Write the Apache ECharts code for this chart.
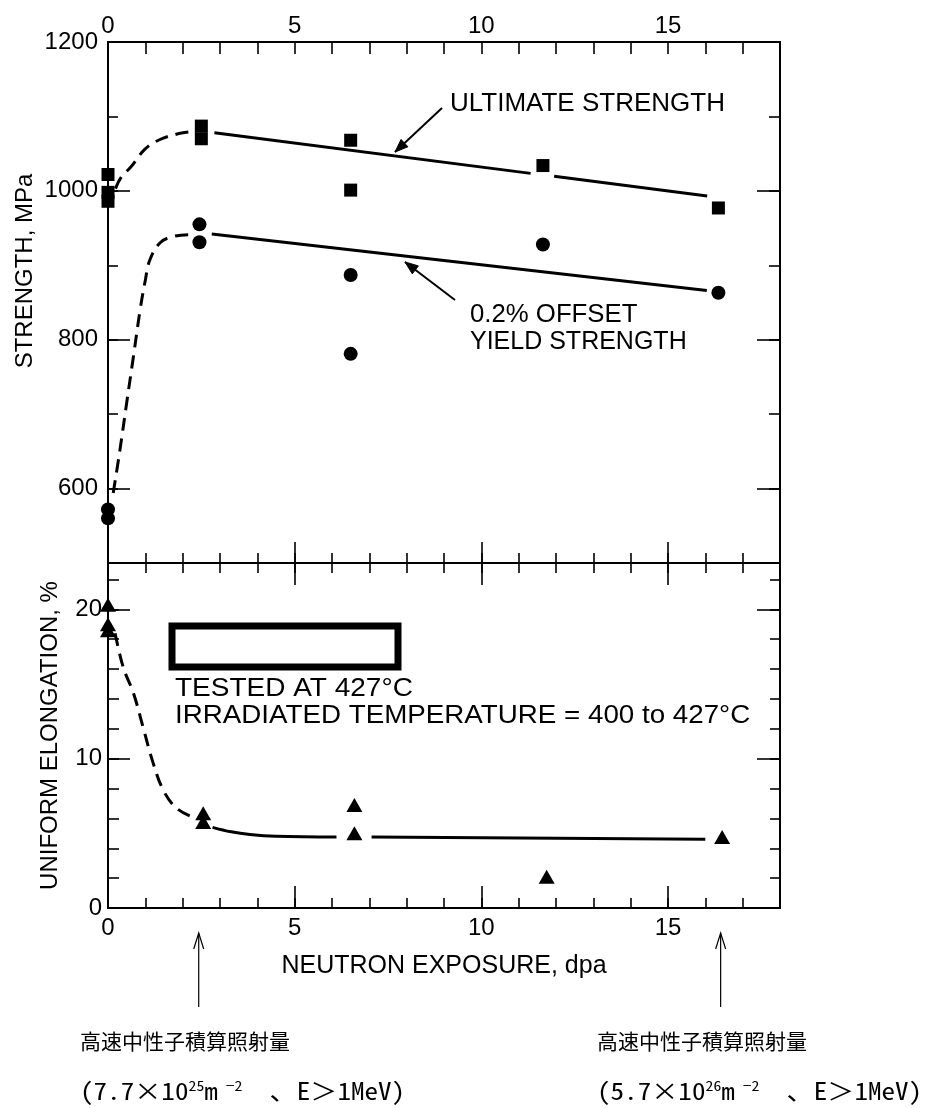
<!DOCTYPE html>
<html><head><meta charset="utf-8">
<script src="https://cdn.jsdelivr.net/npm/echarts@6/dist/echarts.min.js"></script>
<style>html,body{margin:0;padding:0;background:#fff}#c{width:931px;height:1108px}</style>
</head><body><div id="c"></div>
<script>
// ---------------- data ----------------
const xTickLabels = [0, 5, 10, 15];
const strengthTickLabels = [600, 800, 1000, 1200];
const elongTickLabels = [0, 10, 20];

// ultimate strength (squares)
const ultX = [0, 0, 0, 2.5, 2.5, 6.5, 6.5, 11.65, 16.35];
const ultY = [1022, 998, 986, 1087, 1070, 1068, 1001, 1034, 977];
// 0.2% offset yield strength (circles)
const ysX = [0, 0, 2.45, 2.45, 6.5, 6.5, 11.65, 16.35];
const ysY = [572, 560, 955, 931, 887, 781, 928, 863];
// uniform elongation (triangles)
const elX = [0, 0, 0, 2.55, 2.55, 6.6, 6.6, 11.75, 16.45];
const elY = [20.3, 19.0, 18.6, 6.35, 5.75, 6.9, 5.0, 2.1, 4.75];

// hand-drawn trend curves
const ultDashX = [0.2, 0.35, 0.61, 0.99, 1.35, 1.9, 2.3];
const ultDashY = [1003, 1018, 1032, 1056, 1068, 1077, 1080];
const ultFit1X = [2.85, 11.32], ultFit1Y = [1078, 1023.5];
const ultFit2X = [11.95, 16.05], ultFit2Y = [1019.5, 993];

const ysDashX = [0.14, 0.32, 0.5, 0.68, 0.86, 1.0, 1.12, 1.39, 1.74, 2.19];
const ysDashY = [594, 652, 715, 777, 840, 880, 907, 930, 938.6, 941];
const ysFitX = [2.78, 16.04], ysFitY = [942, 866];

const elDashX = [0.19, 0.41, 0.68, 0.94, 1.21, 1.48, 1.83, 2.3];
const elDashY = [18.4, 16.1, 14.4, 12.1, 9.7, 7.9, 6.7, 6.05];
const elFit1X = [2.8, 3.3, 3.8, 4.5, 6.12], elFit1Y = [5.4, 5.1, 4.92, 4.8, 4.75];
const elFit2X = [7.06, 16.0], elFit2Y = [4.75, 4.6];

// fluence markers (dpa)
const fluenceX = [2.43, 16.41];

// ---------------- chart ----------------
const FONT = "'Liberation Sans', Arial, Helvetica, sans-serif";
const BLACK = '#000';
const pts = (xs, ys) => xs.map((x, i) => [x, ys[i]]);

const chart = echarts.init(document.getElementById('c'), null, {renderer: 'canvas', width: 931, height: 1108});

const axLine = {show: true, onZero: false, lineStyle: {color: BLACK, width: 2}};
function tick(len) { return {show: true, inside: true, length: len, lineStyle: {color: BLACK, width: 1.6}}; }
const noLabel = {show: false};

function xAx(grid, pos, interval, len, label) {
  return {
    type: 'value', gridIndex: grid, position: pos, min: 0, max: 18, interval: interval,
    axisLine: axLine, axisTick: tick(len), splitLine: {show: false},
    axisLabel: label || noLabel
  };
}
function yAx(grid, pos, min, max, interval, len, inverse, label) {
  return {
    type: 'value', gridIndex: grid, position: pos, min: min, max: max, interval: interval, inverse: !!inverse,
    axisLine: axLine, axisTick: tick(len), splitLine: {show: false},
    axisLabel: label || noLabel
  };
}

const xLabel = (margin) => ({
  show: true, margin: margin, color: BLACK, fontFamily: FONT, fontSize: 24,
  formatter: v => xTickLabels.includes(v) ? String(v) : ''
});

const xAxes = [
  xAx(0, 'top', 1, 12, xLabel(4)),
  xAx(0, 'bottom', 1, 10),
  xAx(0, 'bottom', 5, 21),
  xAx(1, 'top', 1, 10),
  xAx(1, 'top', 5, 22),
  xAx(1, 'bottom', 1, 10),
  Object.assign(xAx(1, 'bottom', 5, 22, xLabel(8)), {
    name: 'NEUTRON EXPOSURE, dpa', nameLocation: 'middle', nameGap: 46,
    nameTextStyle: {color: BLACK, fontFamily: FONT, fontSize: 25}
  })
];

const yAxes = [
  yAx(0, 'left', 500, 1200, 100, 10),
  yAx(0, 'left', -1200, -500, 200, 22, true, {
    show: true, margin: 10, color: BLACK, fontFamily: FONT, fontSize: 24,
    formatter: v => strengthTickLabels.includes(-v) ? String(-v) : ''
  }),
  yAx(0, 'right', 500, 1200, 100, 11),
  yAx(0, 'right', -1200, -500, 200, 23, true),
  yAx(1, 'left', 0, 23.1, 2, 11),
  Object.assign(yAx(1, 'left', 0, 23.1, 10, 22, false, {
    show: true, margin: 6, color: BLACK, fontFamily: FONT, fontSize: 24,
    formatter: v => elongTickLabels.includes(v) ? String(v) : ''
  }), {
    name: 'UNIFORM ELONGATION, %', nameLocation: 'middle', nameGap: 46, nameRotate: 90,
    nameTextStyle: {color: BLACK, fontFamily: FONT, fontSize: 24}
  }),
  yAx(1, 'right', 0, 23.1, 2, 10),
  yAx(1, 'right', 0, 23.1, 10, 23)
];

function lineSeries(xi, yi, data, dashed, smooth) {
  return {
    type: 'line', xAxisIndex: xi, yAxisIndex: yi, data: data, symbol: 'none', smooth: smooth || false,
    silent: true, z: 2, clip: false,
    lineStyle: {color: BLACK, width: 3, type: dashed ? [13, 8] : 'solid'}
  };
}
function scatterSeries(xi, yi, data, symbol, size) {
  return {
    type: 'scatter', xAxisIndex: xi, yAxisIndex: yi, data: data, symbol: symbol, symbolSize: size,
    itemStyle: {color: BLACK, opacity: 1}, clip: false, z: 5, silent: true
  };
}

const series = [
  lineSeries(0, 0, pts(ultDashX, ultDashY), true, 0.4),
  lineSeries(0, 0, pts(ultFit1X, ultFit1Y), false),
  lineSeries(0, 0, pts(ultFit2X, ultFit2Y), false),
  lineSeries(0, 0, pts(ysDashX, ysDashY), true, 0.4),
  lineSeries(0, 0, pts(ysFitX, ysFitY), false),
  lineSeries(3, 4, pts(elDashX, elDashY), true, 0.4),
  lineSeries(3, 4, pts(elFit1X, elFit1Y), false, 0.4),
  lineSeries(3, 4, pts(elFit2X, elFit2Y), false),
  scatterSeries(0, 0, pts(ultX, ultY), 'rect', 13),
  scatterSeries(0, 0, pts(ysX, ysY), 'circle', 14),
  scatterSeries(3, 4, pts(elX, elY), 'triangle', [16, 14])
];

chart.setOption({
  backgroundColor: '#fff',
  animation: false,
  grid: [
    {left: 108, right: 151, top: 42, height: 521},
    {left: 108, right: 151, top: 563, height: 345}
  ],
  xAxis: xAxes,
  yAxis: yAxes,
  series: series
});

// ---------------- annotations ----------------
function arrowHeadPts(x1, y1, x2, y2, len, half) {
  const a = Math.atan2(y2 - y1, x2 - x1);
  const bx = x2 - len * Math.cos(a), by = y2 - len * Math.sin(a);
  const px = -Math.sin(a), py = Math.cos(a);
  return [[bx + half * px, by + half * py], [x2, y2], [bx - half * px, by - half * py]];
}
function filledArrow(x1, y1, x2, y2) {
  return [
    {type: 'polyline', silent: true, z: 10, shape: {points: [[x1, y1], [x2, y2]]}, style: {stroke: BLACK, lineWidth: 2, fill: null}},
    {type: 'polygon', silent: true, z: 10, shape: {points: arrowHeadPts(x1, y1, x2, y2, 13, 5)}, style: {fill: BLACK, stroke: BLACK, lineWidth: 1}}
  ];
}
function openArrow(x1, y1, x2, y2) {
  return [
    {type: 'polyline', silent: true, z: 10, shape: {points: [[x1, y1], [x2, y2]]}, style: {stroke: BLACK, lineWidth: 1.2, fill: null}},
    {type: 'polyline', silent: true, z: 10, shape: {points: arrowHeadPts(x1, y1, x2, y2, 16, 5)}, style: {stroke: BLACK, lineWidth: 1.2, fill: null}}
  ];
}
function txt(text, x, y, size, opts) {
  opts = opts || {};
  return {
    type: 'text', silent: true, z: 10, x: x, y: y,
    rotation: opts.rotation || 0, scaleX: opts.scaleX || 1,
    style: {
      text: text, fill: BLACK,
      font: (size) + 'px ' + (opts.family || FONT),
      textAlign: opts.align || 'left', align: opts.align || 'left',
      textVerticalAlign: 'middle', verticalAlign: 'middle',
      rich: opts.rich
    }
  };
}

const g = [];
// y axis name (top panel)
g.push(txt('STRENGTH, MPa', 25, 271, 24, {rotation: Math.PI / 2, align: 'center'}));
// curve labels
g.push(txt('ULTIMATE STRENGTH', 450, 104, 25, {scaleX: 1.04}));
g.push(txt('0.2% OFFSET', 470, 315, 25, {scaleX: 1.03}));
g.push(txt('YIELD STRENGTH', 470, 342, 25));
g.push(...filledArrow(442, 108, 395, 152));
g.push(...filledArrow(455, 300, 405, 262));
// legend-like box and test notes
g.push({type: 'rect', silent: true, z: 10, shape: {x: 172, y: 626, width: 226, height: 41}, style: {fill: null, stroke: BLACK, lineWidth: 7}});
g.push(txt('TESTED AT 427°C', 175, 689, 25, {scaleX: 1.12}));
g.push(txt('IRRADIATED TEMPERATURE = 400 to 427°C', 175, 716, 25, {scaleX: 1.11}));

// fluence arrows and notes
const JP = "'Noto Sans CJK JP', 'Noto Sans CJK SC', sans-serif";
const MONO = "'Noto Sans Mono CJK JP', 'DejaVu Sans Mono', 'Noto Sans CJK JP', monospace";
const richSup = {s: {fontSize: 14, fontFamily: MONO, verticalAlign: 'top', padding: [0, 0, 10, 0]}};
const notes = ['(7.7×10{s|25}m{s| −2}  、E＞1MeV)', '(5.7×10{s|26}m{s| −2}  、E＞1MeV)'];
const noteLeft = [80, 597];
fluenceX.forEach((v, i) => {
  const px = chart.convertToPixel({xAxisIndex: 6}, v);
  g.push(...openArrow(px, 1007, px, 933));
  g.push(txt('高速中性子積算照射量', noteLeft[i], 1041, 21, {family: JP}));
  g.push(txt(notes[i], noteLeft[i], 1091, 24, {family: MONO, rich: richSup, scaleX: 1.13}));
});

chart.setOption({graphic: {elements: g}});
</script>
</body></html>
